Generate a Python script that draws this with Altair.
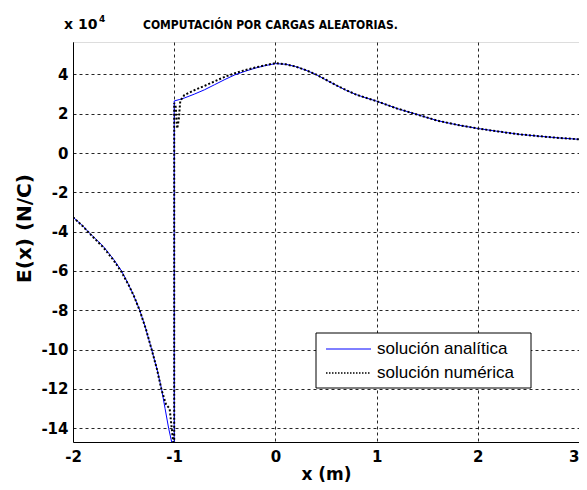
import altair as alt
import pandas as pd

# ---- data (values in units of 10^4 N/C) ----
x_analitica = [-2.0, -1.9, -1.85, -1.8, -1.7, -1.6, -1.52, -1.45, -1.4, -1.34, -1.28,
               -1.22, -1.17, -1.125, -1.09, -1.055, -1.025, -1.0, -1.0, -0.95, -0.9,
               -0.8, -0.7, -0.6, -0.5, -0.4, -0.3, -0.2, -0.1, 0.0, 0.1, 0.2, 0.3,
               0.4, 0.5, 0.6, 0.7, 0.8, 0.9, 1.0, 1.2, 1.4, 1.6, 1.8, 2.0, 2.2, 2.4,
               2.6, 2.8, 3.0]
y_analitica = [-3.26, -3.72, -4.0, -4.25, -4.75, -5.4, -6.0, -6.7, -7.25, -8.0, -8.95,
               -10.05, -11.0, -12.0, -13.0, -14.0, -14.7, -14.7, 2.65, 2.72, 2.8,
               3.0, 3.22, 3.48, 3.74, 3.98, 4.16, 4.32, 4.45, 4.55, 4.52, 4.4, 4.22,
               4.0, 3.72, 3.45, 3.19, 2.97, 2.8, 2.64, 2.27, 1.96, 1.65, 1.43, 1.25,
               1.1, 0.96, 0.86, 0.77, 0.7]

x_numerica = [-2.0, -1.9, -1.85, -1.8, -1.7, -1.6, -1.52, -1.45, -1.4, -1.34, -1.28,
              -1.22, -1.17, -1.125, -1.08, -1.045, -1.01, -1.0, -1.0, -0.985, -0.97,
              -0.955, -0.94, -0.9, -0.8, -0.7, -0.6, -0.5, -0.4, -0.3, -0.2, -0.1,
              0.0, 0.1, 0.2, 0.3, 0.4, 0.5, 0.6, 0.7, 0.8, 0.9, 1.0, 1.2, 1.4, 1.6,
              1.8, 2.0, 2.2, 2.4, 2.6, 2.8, 3.0]
y_numerica = [-3.26, -3.74, -4.02, -4.28, -4.8, -5.45, -6.05, -6.72, -7.25, -8.02, -8.95,
              -10.05, -11.0, -12.05, -12.8, -13.0, -14.7, -14.7, 2.55, 2.35, 1.25,
              1.7, 2.65, 2.95, 3.2, 3.42, 3.65, 3.88, 4.06, 4.22, 4.35, 4.47,
              4.57, 4.52, 4.4, 4.22, 4.0, 3.73, 3.45, 3.2, 2.97, 2.8, 2.64, 2.27, 1.96,
              1.65, 1.43, 1.25, 1.1, 0.96, 0.86, 0.77, 0.7]

series_names = ["solución analítica", "solución numérica"]
x_ticks = [-2, -1, 0, 1, 2, 3]
y_ticks = [-14, -12, -10, -8, -6, -4, -2, 0, 2, 4]
title_text = "COMPUTACIÓN POR CARGAS ALEATORIAS."
exp_base = "x 10"
exp_power = "4"

df_a = pd.DataFrame({"x": x_analitica, "y": y_analitica, "i": range(len(x_analitica))})
df_n = pd.DataFrame({"x": x_numerica, "y": y_numerica, "i": range(len(x_numerica))})

BOLD = "DejaVu Sans"

xscale = alt.Scale(domain=[-2, 3], nice=False, zero=False)
yscale = alt.Scale(domain=[-14.7, 5.65], nice=False, zero=False)

xaxis = alt.Axis(values=x_ticks, title="x (m)", grid=True, gridDash=[3, 3],
                 gridColor="black", gridOpacity=0.85, ticks=False, tickSize=0,
                 labelPadding=7, labelExpr="'' + datum.value", domainColor="black",
                 labelFlush=False, labelOverlap=False,
                 labelAlign={"condition": {"test": "datum.value == 3", "value": "right"},
                             "value": "center"},
                 labelFont=BOLD, labelFontWeight="bold", labelFontSize=15,
                 labelColor="black", titleFont=BOLD, titleFontSize=17,
                 titleFontWeight="bold", titleColor="black", titlePadding=2)
yaxis = alt.Axis(values=y_ticks, title="E(x) (N/C)", grid=True, gridDash=[3, 3],
                 gridColor="black", gridOpacity=0.85, ticks=False, tickSize=0,
                 labelPadding=5, labelExpr="'' + datum.value", domainColor="black",
                 labelFlush=False, labelOverlap=False,
                 labelFont=BOLD, labelFontWeight="bold", labelFontSize=15,
                 labelColor="black", titleFont=BOLD, titleFontSize=20,
                 titleFontWeight="bold", titleColor="black", titlePadding=6,
                 titleY=186)

line_a = alt.Chart(df_a).mark_line(color="#0000ff", strokeWidth=1, clip=True).encode(
    x=alt.X("x:Q", scale=xscale, axis=xaxis),
    y=alt.Y("y:Q", scale=yscale, axis=yaxis),
    order="i:Q",
)
line_n = alt.Chart(df_n).mark_line(color="black", strokeWidth=2, strokeDash=[2, 2],
                                   clip=True).encode(
    x=alt.X("x:Q", scale=xscale, axis=xaxis),
    y=alt.Y("y:Q", scale=yscale, axis=yaxis),
    order="i:Q",
)

# legend box (drawn in the lower right of the plot area)
leg_box = alt.Chart(pd.DataFrame({"k": [0]})).mark_rect(
    fill="white", stroke="black", strokeWidth=1).encode(
    x=alt.value(243), x2=alt.value(458), y=alt.value(291), y2=alt.value(346))
leg_rule_a = alt.Chart(pd.DataFrame({"k": [0]})).mark_rule(
    color="#0000ff", strokeWidth=1).encode(
    x=alt.value(253), x2=alt.value(298), y=alt.value(307))
leg_rule_n = alt.Chart(pd.DataFrame({"k": [0]})).mark_rule(
    color="black", strokeWidth=1.5, strokeDash=[1.5, 1.5]).encode(
    x=alt.value(253), x2=alt.value(298), y=alt.value(331))
leg_txt_a = alt.Chart(pd.DataFrame({"name": [series_names[0]]})).mark_text(
    align="left", baseline="middle", font="Liberation Sans", fontSize=17,
    color="black").encode(text="name:N", x=alt.value(304), y=alt.value(307))
leg_txt_n = alt.Chart(pd.DataFrame({"name": [series_names[1]]})).mark_text(
    align="left", baseline="middle", font="Liberation Sans", fontSize=17,
    color="black").encode(text="name:N", x=alt.value(304), y=alt.value(331))

# "x 10^4" exponent label above the y axis
exp_txt = alt.Chart(pd.DataFrame({"t": [exp_base]})).mark_text(
    align="left", baseline="alphabetic", font=BOLD, fontWeight="bold", fontSize=14,
    color="black").encode(text="t:N", x=alt.value(-9), y=alt.value(-13))
exp_pow = alt.Chart(pd.DataFrame({"t": [exp_power]})).mark_text(
    align="left", baseline="alphabetic", font=BOLD, fontWeight="bold", fontSize=9,
    color="black").encode(text="t:N", x=alt.value(26), y=alt.value(-20))

# chart title
title_mark = alt.Chart(pd.DataFrame({"t": [title_text]})).mark_text(
    align="left", baseline="alphabetic",
    font="Liberation Sans Narrow, DejaVu Sans Condensed, Liberation Sans",
    fontWeight="bold", fontSize=12, color="black").encode(
    text="t:N", x=alt.value(70), y=alt.value(-13))

chart = alt.layer(
    line_a, line_n, leg_box, leg_rule_a, leg_rule_n, leg_txt_a, leg_txt_n,
    exp_txt, exp_pow, title_mark,
).properties(
    width=506, height=400,
    autosize=alt.AutoSizeParams(type="none"),
    padding={"left": 65, "top": 34, "right": 0, "bottom": 40},
).configure_view(fill="#c9c9c9", stroke=None).configure(background="white")

chart.save("out.html", embed_options={"renderer": "svg", "actions": False})
